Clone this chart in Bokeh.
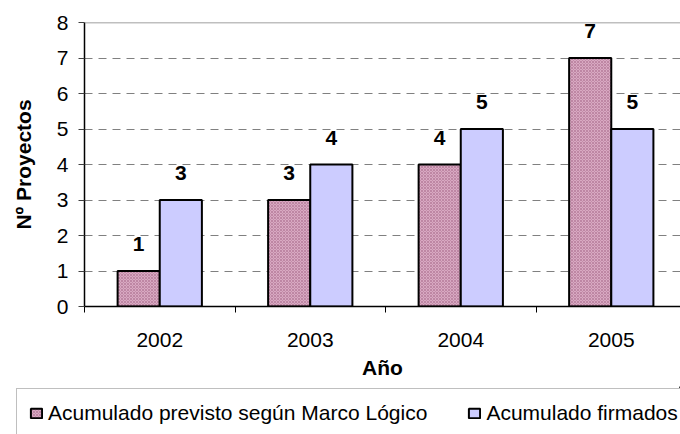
import numpy as np
from bokeh.plotting import figure
from bokeh.layouts import column
from bokeh.models import (FixedTicker, Range1d, Span, Legend, LegendItem,
                          LabelSet, ColumnDataSource)
from bokeh.core.properties import value
from bokeh.embed import file_html
from bokeh.resources import INLINE

# ---- data ----
years = ["2002", "2003", "2004", "2005"]
previsto = [1, 3, 4, 7]
firmados = [3, 4, 5, 5]
series_names = ["Acumulado previsto según Marco Lógico", "Acumulado firmados"]
y_ticks = [0, 1, 2, 3, 4, 5, 6, 7, 8]
x_title = "Año"
y_title = "Nº Proyectos"

FONT = "Liberation Sans"
FS = "21px"

PINK = dict(fill_color="#d8a9c2", line_color="black", line_width=2,
            hatch_pattern="diagonal_cross", hatch_color="#9c5a7d",
            hatch_scale=3, hatch_weight=0.8, hatch_alpha=0.55)
BLUE = dict(fill_color="#ccccff", line_color="black", line_width=2)

idx = np.arange(len(years))
centers = idx + 0.5
bar_w = 0.28
x_prev = centers - bar_w / 2
x_firm = centers + bar_w / 2

# ---------------- main chart ----------------
p = figure(width=680, height=386, output_backend="svg", toolbar_location=None,
           x_range=Range1d(0, 3.96), y_range=Range1d(0, 8),
           min_border_left=84, min_border_right=0, min_border_top=22,
           min_border_bottom=80)
p.frame_align = False
p.outline_line_color = None
p.background_fill_color = "white"
p.border_fill_color = "white"

p.xgrid.visible = False
p.ygrid[0].ticker = FixedTicker(ticks=y_ticks[1:-1])
p.ygrid.grid_line_color = "#808080"
p.ygrid.grid_line_dash = "8 6"
p.ygrid.grid_line_width = 1

p.add_layout(Span(location=y_ticks[-1], dimension="width",
                  line_color="#808080", line_width=1.5))

src_prev = ColumnDataSource(dict(x=x_prev, top=previsto,
                                 label=[str(v) for v in previsto]))
src_firm = ColumnDataSource(dict(x=x_firm, top=firmados,
                                 label=[str(v) for v in firmados]))

p.vbar(x="x", top="top", width=bar_w, source=src_prev, **PINK)
p.vbar(x="x", top="top", width=bar_w, source=src_firm, **BLUE)

for src in (src_prev, src_firm):
    p.add_layout(LabelSet(x="x", y="top", text="label", source=src,
                          text_align="center", text_baseline="middle",
                          y_offset=27, text_font=value(FONT),
                          text_font_style="bold", text_font_size=FS,
                          text_color="black"))

xa = p.xaxis[0]
xa.ticker = FixedTicker(ticks=list(centers), minor_ticks=list(range(len(years) + 1)))
xa.major_label_overrides = {float(c): y for c, y in zip(centers, years)}
xa.major_tick_out = 0
xa.major_tick_in = 0
xa.minor_tick_out = 6
xa.minor_tick_in = 0
xa.minor_tick_line_color = "black"
xa.axis_line_color = "black"
xa.axis_line_width = 1.5
xa.major_label_text_font = FONT
xa.major_label_text_font_size = FS
xa.major_label_text_color = "black"
xa.major_label_standoff = 20
xa.axis_label = x_title
xa.axis_label_text_font = FONT
xa.axis_label_text_font_size = FS
xa.axis_label_text_font_style = "bold"
xa.axis_label_text_color = "black"
xa.axis_label_standoff = 6

ya = p.yaxis[0]
ya.ticker = FixedTicker(ticks=y_ticks)
ya.major_tick_out = 6
ya.major_tick_in = 0
ya.major_tick_line_color = "#404040"
ya.minor_tick_line_color = None
ya.axis_line_color = "black"
ya.axis_line_width = 1.5
ya.major_label_text_font = FONT
ya.major_label_text_font_size = FS
ya.major_label_text_color = "black"
ya.major_label_standoff = 10
ya.axis_label = y_title
ya.axis_label_text_font = FONT
ya.axis_label_text_font_size = FS
ya.axis_label_text_font_style = "bold"
ya.axis_label_text_color = "black"
ya.axis_label_standoff = 19

# ---------------- legend strip ----------------
q = figure(width=680, height=48, output_backend="svg", toolbar_location=None,
           x_range=Range1d(0, 1), y_range=Range1d(0, 1),
           x_axis_type=None, y_axis_type=None,
           min_border_left=0, min_border_right=0, min_border_top=0,
           min_border_bottom=0)
q.frame_align = False
q.outline_line_color = None
q.xgrid.visible = False
q.ygrid.visible = False
q.background_fill_color = "white"
q.border_fill_color = "white"
# swatch carriers, placed outside the visible range
d1 = q.vbar(x=[10], top=[1], width=0.1, **PINK)
d2 = q.vbar(x=[10], top=[1], width=0.1, **BLUE)

legend = Legend(items=[LegendItem(label=series_names[0], renderers=[d1]),
                       LegendItem(label=series_names[1], renderers=[d2])],
                orientation="horizontal", location=(16, -4), margin=0,
                padding=12, spacing=40, glyph_width=14, glyph_height=12,
                label_standoff=5, label_text_font=FONT,
                label_text_font_size=FS, label_text_color="black",
                border_line_color="#808080", border_line_width=1.5,
                background_fill_color="white", background_fill_alpha=1)
q.add_layout(legend)

layout = column(p, q, spacing=0)
open("out.html", "w").write(file_html(layout, INLINE))
